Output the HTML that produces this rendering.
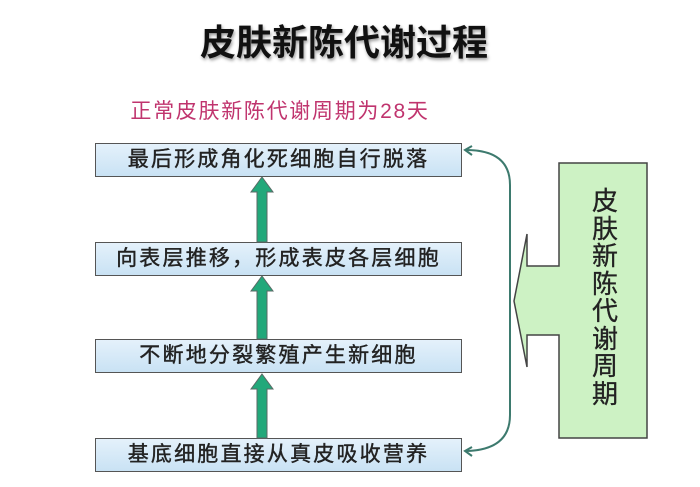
<!DOCTYPE html>
<html><head><meta charset="utf-8"><style>
body{margin:0;width:700px;height:487px;background:#fff;overflow:hidden;position:relative;font-family:"Liberation Sans","Noto Sans CJK SC",sans-serif}
.t{position:absolute;left:0;width:700px;text-align:center}
.box{position:absolute;left:95px;width:365px;height:32px;border:1.5px solid #555;background:linear-gradient(#e4f1fb,#c9e2f4);font-size:21px;letter-spacing:2.2px;line-height:32px;text-align:center;color:#222;-webkit-text-stroke:0.4px #222}
</style></head><body>
<div class="t" style="top:14px;left:-6px;font-size:36px;font-weight:bold;color:#111;text-shadow:1px 2px 3px #999">皮肤新陈代谢过程</div>
<div class="t" style="top:95px;left:-70px;font-size:21px;letter-spacing:1.7px;color:#c0346e">正常皮肤新陈代谢周期为28天</div>
<div class="box" style="top:143px">最后形成角化死细胞自行脱落</div>
<div class="box" style="top:242px">向表层推移，形成表皮各层细胞</div>
<div class="box" style="top:339px">不断地分裂繁殖产生新细胞</div>
<div class="box" style="top:438px">基底细胞直接从真皮吸收营养</div>
<svg width="700" height="487" style="position:absolute;left:0;top:0">
<g fill="#22a87a" stroke="#5a6a66" stroke-width="1">
<polygon points="262,177 273,192 267,192 267,242 257,242 257,192 251,192"/>
<polygon points="262,276 273,291 267,291 267,339 257,339 257,291 251,291"/>
<polygon points="262,374 273,389 267,389 267,438 257,438 257,389 251,389"/>
</g>
<path d="M466,150 Q510,150 510,185 L510,415 Q510,450 466,451" fill="none" stroke="#3d7a6e" stroke-width="2"/>
<path d="M472,146 L465,150 L472,155" fill="none" stroke="#3d7a6e" stroke-width="2"/>
<path d="M472,447 L465,451 L472,456" fill="none" stroke="#3d7a6e" stroke-width="2"/>
<polygon points="559,163 647,163 647,438 559,438 559,335 527,335 527,367 514,301 527,234 527,266 559,266" fill="#cdf2c4" stroke="#444" stroke-width="1.5"/>
<rect x="560" y="267" width="2" height="67" fill="#cdf2c4"/>
</svg>
<div style="position:absolute;left:591px;top:188px;width:28px;font-size:26px;line-height:27.5px;color:#222;text-align:center;-webkit-text-stroke:0.3px #222">皮肤新陈代谢周期</div>
</body></html>
